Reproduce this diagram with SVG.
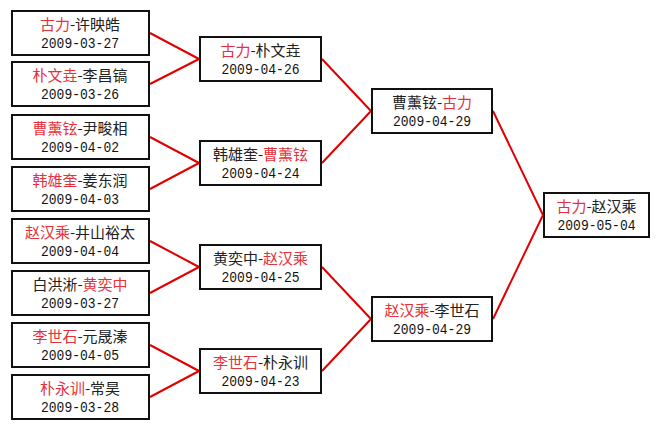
<svg xmlns="http://www.w3.org/2000/svg" width="660" height="429" viewBox="0 0 660 429">
<style>
.box{fill:#fff;stroke:#111;stroke-width:2}
.nm{font-family:"Noto Sans CJK SC","Noto Sans CJK JP",sans-serif;font-size:15px;fill:#222;text-anchor:middle}
.r{fill:#e8303a}
.dt{font-family:"Liberation Mono","DejaVu Sans Mono",monospace;font-size:15.5px;fill:#111;text-anchor:middle}
.ln{stroke:#e00000;stroke-width:2;fill:none}
</style>
<rect width="660" height="429" fill="#fff"/>
<g id="connectors">
<path class="ln" d="M150,33 L199,59 M150,84 L199,59"/>
<path class="ln" d="M150,137 L199,163 M150,189 L199,163"/>
<path class="ln" d="M150,241 L199,267 M150,293 L199,267"/>
<path class="ln" d="M150,345 L199,371 M150,397 L199,371"/>
<path class="ln" d="M322,59 L371,111 M322,163 L371,111"/>
<path class="ln" d="M322,267 L371,319 M322,371 L371,319"/>
<path class="ln" d="M493,111 L543,215 M493,319 L543,215"/>
</g>
<g id="r1-1"><rect class="box" x="12" y="11" width="137" height="44"/><text class="nm" x="80" y="30"><tspan class="r">古力</tspan>-许映皓</text><text class="dt" x="80" y="48" textLength="78" lengthAdjust="spacingAndGlyphs">2009-03-27</text></g>
<g id="r1-2"><rect class="box" x="12" y="62" width="137" height="44"/><text class="nm" x="80" y="81"><tspan class="r">朴文垚</tspan>-李昌镐</text><text class="dt" x="80" y="99" textLength="78" lengthAdjust="spacingAndGlyphs">2009-03-26</text></g>
<g id="r1-3"><rect class="box" x="12" y="115" width="137" height="44"/><text class="nm" x="80" y="134"><tspan class="r">曹薰铉</tspan>-尹畯相</text><text class="dt" x="80" y="152" textLength="78" lengthAdjust="spacingAndGlyphs">2009-04-02</text></g>
<g id="r1-4"><rect class="box" x="12" y="167" width="137" height="44"/><text class="nm" x="80" y="186"><tspan class="r">韩雄奎</tspan>-姜东润</text><text class="dt" x="80" y="204" textLength="78" lengthAdjust="spacingAndGlyphs">2009-04-03</text></g>
<g id="r1-5"><rect class="box" x="12" y="219" width="137" height="44"/><text class="nm" x="80" y="238"><tspan class="r">赵汉乘</tspan>-井山裕太</text><text class="dt" x="80" y="256" textLength="78" lengthAdjust="spacingAndGlyphs">2009-04-04</text></g>
<g id="r1-6"><rect class="box" x="12" y="271" width="137" height="44"/><text class="nm" x="80" y="290">白洪淅-<tspan class="r">黄奕中</tspan></text><text class="dt" x="80" y="308" textLength="78" lengthAdjust="spacingAndGlyphs">2009-03-27</text></g>
<g id="r1-7"><rect class="box" x="12" y="323" width="137" height="44"/><text class="nm" x="80" y="342"><tspan class="r">李世石</tspan>-元晟溱</text><text class="dt" x="80" y="360" textLength="78" lengthAdjust="spacingAndGlyphs">2009-04-05</text></g>
<g id="r1-8"><rect class="box" x="12" y="375" width="137" height="44"/><text class="nm" x="80" y="394"><tspan class="r">朴永训</tspan>-常昊</text><text class="dt" x="80" y="412" textLength="78" lengthAdjust="spacingAndGlyphs">2009-03-28</text></g>
<g id="r2-1"><rect class="box" x="200" y="37" width="121" height="44"/><text class="nm" x="260.5" y="56"><tspan class="r">古力</tspan>-朴文垚</text><text class="dt" x="260.5" y="74" textLength="78" lengthAdjust="spacingAndGlyphs">2009-04-26</text></g>
<g id="r2-2"><rect class="box" x="200" y="141" width="121" height="44"/><text class="nm" x="260.5" y="160">韩雄奎-<tspan class="r">曹薰铉</tspan></text><text class="dt" x="260.5" y="178" textLength="78" lengthAdjust="spacingAndGlyphs">2009-04-24</text></g>
<g id="r2-3"><rect class="box" x="200" y="245" width="121" height="44"/><text class="nm" x="260.5" y="264">黄奕中-<tspan class="r">赵汉乘</tspan></text><text class="dt" x="260.5" y="282" textLength="78" lengthAdjust="spacingAndGlyphs">2009-04-25</text></g>
<g id="r2-4"><rect class="box" x="200" y="349" width="121" height="44"/><text class="nm" x="260.5" y="368"><tspan class="r">李世石</tspan>-朴永训</text><text class="dt" x="260.5" y="386" textLength="78" lengthAdjust="spacingAndGlyphs">2009-04-23</text></g>
<g id="r3-1"><rect class="box" x="372" y="89" width="120" height="44"/><text class="nm" x="432" y="108">曹薰铉-<tspan class="r">古力</tspan></text><text class="dt" x="432" y="126" textLength="78" lengthAdjust="spacingAndGlyphs">2009-04-29</text></g>
<g id="r3-2"><rect class="box" x="372" y="297" width="120" height="44"/><text class="nm" x="432" y="316"><tspan class="r">赵汉乘</tspan>-李世石</text><text class="dt" x="432" y="334" textLength="78" lengthAdjust="spacingAndGlyphs">2009-04-29</text></g>
<g id="final"><rect class="box" x="544" y="193" width="105" height="44"/><text class="nm" x="596.5" y="212"><tspan class="r">古力</tspan>-赵汉乘</text><text class="dt" x="596.5" y="230" textLength="78" lengthAdjust="spacingAndGlyphs">2009-05-04</text></g>
</svg>
